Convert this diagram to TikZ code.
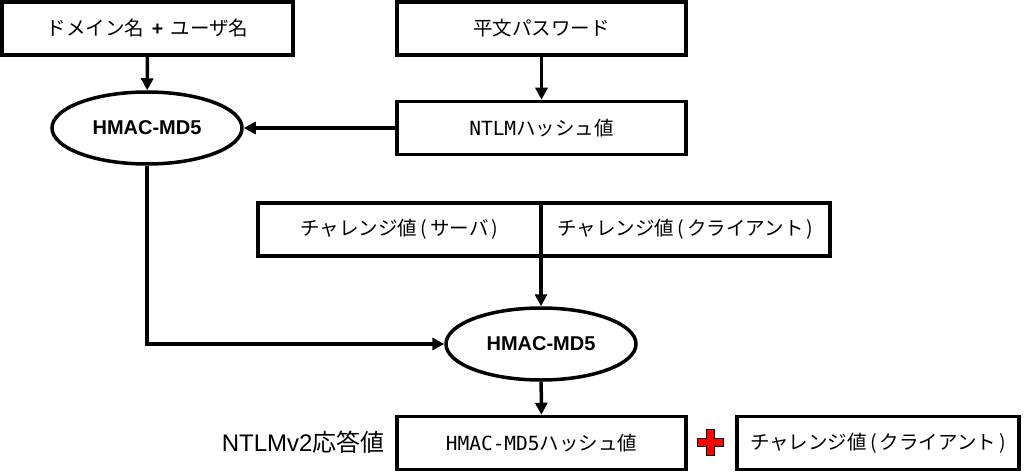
\documentclass[tikz,border=0pt]{standalone}
\usepackage{fontspec}
\setmainfont{Noto Sans CJK JP}
\newfontfamily\jmono{DejaVu Sans Mono}
\newfontfamily\lsans{Liberation Sans}
\usetikzlibrary{shapes.geometric,arrows.meta}
\begin{document}
\begin{tikzpicture}[x=1pt,y=-1pt,
  box/.style={draw,line width=3.5pt,minimum height=53pt,inner sep=0pt,font=\fontsize{19.5}{21}\selectfont},
  ell/.style={draw,ellipse,line width=3.5pt,minimum width=190pt,minimum height=72pt,font=\lsans\bfseries\fontsize{20}{22}\selectfont},
  arr/.style={line width=3.5pt,-{Triangle[length=12pt,width=12pt]}}]
\useasboundingbox (0,0) rectangle (1024,473);
\node[box,minimum width=291pt] (b1) at (147.5,28.5) {ドメイン名 \,{\lsans\bfseries +}\, ユーザ名};
\node[box,minimum width=289pt] (b2) at (541.5,28.5) {平文パスワード};
\node[ell] (e1) at (147,128) {HMAC-MD5};
\node[box,minimum width=289pt] (b3) at (541.5,128) {{\jmono NTLM}ハッシュ値};
\node[box,minimum width=283pt] (b4a) at (399.5,229.5) {チャレンジ値\,(\,サーバ\,)};
\node[box,minimum width=289pt] (b4b) at (685.5,229.5) {チャレンジ値\,(\,クライアント\,)};
\coordinate (m) at (541,256);
\node[ell] (e2) at (541,344) {HMAC-MD5};
\node[box,minimum width=289pt] (b5) at (541.5,443) {{\jmono HMAC-MD5}ハッシュ値};
\node[box,minimum width=282pt] (b6) at (878,443) {チャレンジ値\,(\,クライアント\,)};
\node[font=\fontsize{24}{26}\selectfont,anchor=east] (t) at (388,442) {{\lsans NTLMv2}応答値};
\node[draw=black,line width=1pt,fill=red,inner sep=0pt,minimum width=26pt,minimum height=8pt] (p1) at (710,442) {};
\node[draw=black,line width=1pt,fill=red,inner sep=0pt,minimum width=8pt,minimum height=26pt] (p2) at (710,442) {};
\node[fill=red,inner sep=0pt,minimum width=24pt,minimum height=6pt] at (710,442) {};
\draw[arr] (b1) -- (e1);
\draw[arr] (b2) -- (b3);
\draw[arr] (b3) -- (e1);
\draw[arr] (e1.south) |- (e2.west);
\draw[arr] (m) -- (e2.north);
\draw[arr] (e2) -- (b5);
\end{tikzpicture}
\end{document}
